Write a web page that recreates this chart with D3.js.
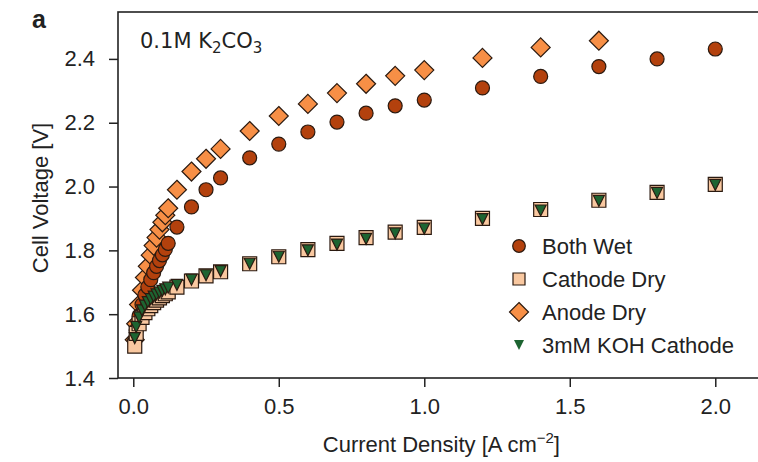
<!DOCTYPE html>
<html>
<head>
<meta charset="utf-8">
<script src="https://cdn.jsdelivr.net/npm/d3@7"></script>
<style>
  html, body { margin: 0; padding: 0; background: #fff; }
  svg { display: block; }
  text { font-family: "Liberation Sans", Arial, sans-serif; fill: #222; }
</style>
</head>
<body>
<svg id="chart" width="758" height="462"></svg>
<script>
// Polarization curves: cell voltage vs. current density, 0.1M K2CO3 electrolyte
const currentLow = [0.005, 0.01, 0.02, 0.03, 0.04, 0.05, 0.06, 0.07, 0.08, 0.09, 0.10, 0.11, 0.12,
                    0.15, 0.2, 0.25, 0.3, 0.4, 0.5, 0.6, 0.7, 0.8, 0.9, 1.0, 1.2, 1.4, 1.6, 1.8, 2.0];

const bothWet = [1.515, 1.55, 1.595, 1.63, 1.66, 1.685, 1.708, 1.73, 1.75, 1.768, 1.786, 1.803, 1.822,
                 1.873, 1.936, 1.99, 2.027, 2.09, 2.133, 2.171, 2.202, 2.23, 2.253, 2.271, 2.309, 2.345, 2.376, 2.40, 2.431];

const cathodeDry = [1.50, 1.54, 1.57, 1.59, 1.605, 1.617, 1.627, 1.636, 1.644, 1.651, 1.658, 1.664, 1.67,
                    1.685, 1.704, 1.72, 1.733, 1.758, 1.78, 1.802, 1.822, 1.84, 1.857, 1.872, 1.90, 1.928, 1.957, 1.982, 2.007];

// anode-dry run stops at 1.6 A cm-2
const anodeDry = [1.52, 1.57, 1.63, 1.675, 1.715, 1.75, 1.785, 1.815, 1.84, 1.865, 1.888, 1.91, 1.932,
                  1.99, 2.047, 2.087, 2.118, 2.174, 2.221, 2.259, 2.293, 2.322, 2.347, 2.365, 2.403, 2.436, 2.457];

const kohCathode = [1.525, 1.56, 1.59, 1.612, 1.627, 1.638, 1.647, 1.655, 1.662, 1.668, 1.673, 1.678, 1.683,
                    1.692, 1.708, 1.722, 1.735, 1.758, 1.78, 1.80, 1.818, 1.836, 1.853, 1.868, 1.898, 1.925, 1.955, 1.98, 2.005];

const seriesNames = ["Both Wet", "Cathode Dry", "Anode Dry", "3mM KOH Cathode"];
const xTicks = [0, 0.5, 1.0, 1.5, 2.0];
const yTicks = [1.4, 1.6, 1.8, 2.0, 2.2, 2.4];

const svg = d3.select("#chart");
const plotLeft = 118, plotTop = 12, plotBottom = 378;
const fontSize = 22;

const x = d3.scaleLinear().domain([-0.0525, 2.17]).range([plotLeft, plotLeft + 2.2225 * 291]);
const y = d3.scaleLinear().domain([1.4, 2.547]).range([plotBottom, plotTop]);
const plotRight = x.range()[1];

const edge = "#2b1a10";
const styles = {
  "Both Wet":        { fill: "#b3410d", shape: "circle" },
  "Cathode Dry":     { fill: "#f9c8a0", shape: "square" },
  "Anode Dry":       { fill: "#f78f46", shape: "diamond" },
  "3mM KOH Cathode": { fill: "#1d6431", shape: "tri" }
};

function markerPath(shape) {
  if (shape === "circle") return d3.symbol().type(d3.symbolCircle).size(Math.PI * 7 * 7)();
  if (shape === "square") return "M-7,-7H7V7H-7Z";
  if (shape === "diamond") return "M0,-9.5L9.5,0L0,9.5L-9.5,0Z";
  return "M-5.5,-5.5L5.5,-5.5L0,5.5Z";
}

const plot = svg.append("g");
function drawSeries(name, xs, ys) {
  const st = styles[name];
  const pts = ys.map((v, i) => [xs[i], v]);
  plot.append("g").selectAll("path").data(pts).join("path")
    .attr("d", markerPath(st.shape))
    .attr("transform", d => `translate(${x(d[0])},${y(d[1])})`)
    .attr("fill", st.fill)
    .attr("stroke", edge)
    .attr("stroke-width", 1.2);
}
drawSeries("Anode Dry", currentLow, anodeDry);
drawSeries("Both Wet", currentLow, bothWet);
drawSeries("Cathode Dry", currentLow, cathodeDry);
drawSeries("3mM KOH Cathode", currentLow, kohCathode);

// axes
const xAxis = d3.axisBottom(x).tickValues(xTicks).tickFormat(d3.format(".1f")).tickSizeOuter(0).tickSize(9).tickPadding(14);
const yAxis = d3.axisLeft(y).tickValues(yTicks).tickFormat(d3.format(".1f")).tickSizeOuter(0).tickSize(9).tickPadding(14);

const gx = svg.append("g").attr("transform", `translate(0,${plotBottom})`).call(xAxis);
const gy = svg.append("g").attr("transform", `translate(${plotLeft},0)`).call(yAxis);
[gx, gy].forEach(g => {
  g.select(".domain").remove();
  g.selectAll("line").attr("stroke", "#222").attr("stroke-width", 1.5);
  g.selectAll("text").attr("font-size", fontSize).attr("fill", "#222")
    .attr("font-family", "'Liberation Sans', Arial, sans-serif");
});
gx.selectAll("text").attr("dy", "0.6em");

// frame (right edge lies past the visible area)
svg.append("rect")
  .attr("x", plotLeft).attr("y", plotTop)
  .attr("width", plotRight - plotLeft).attr("height", plotBottom - plotTop)
  .attr("fill", "none").attr("stroke", "#222").attr("stroke-width", 1.6);

// axis titles, centred on the axes box
svg.append("text")
  .attr("x", (plotLeft + plotRight) / 2).attr("y", 452)
  .attr("text-anchor", "middle").attr("font-size", fontSize)
  .html('Current Density [A cm<tspan dy="-9" font-size="15">−2</tspan><tspan dy="9">]</tspan>');

svg.append("text")
  .attr("transform", "translate(48,198) rotate(-90)")
  .attr("text-anchor", "middle").attr("font-size", fontSize)
  .text("Cell Voltage [V]");

// panel letter and electrolyte note
svg.append("text").attr("x", 32).attr("y", 28)
  .attr("font-size", 25).attr("font-weight", "bold").text("a");

svg.append("text").attr("x", 140).attr("y", 48)
  .attr("font-size", 21).style("font-family", "'DejaVu Sans', sans-serif")
  .html('0.1M K<tspan dy="5" font-size="15">2</tspan><tspan dy="-5">CO</tspan><tspan dy="5" font-size="15">3</tspan>');

// legend
const legend = svg.append("g");
seriesNames.forEach((name, i) => {
  const cy = 246 + i * 33;
  const st = styles[name];
  let d = markerPath(st.shape);
  if (st.shape === "square") d = "M-6,-6H6V6H-6Z";
  if (st.shape === "circle") d = d3.symbol().type(d3.symbolCircle).size(Math.PI * 6.3 * 6.3)();
  if (st.shape === "tri") d = "M-5,-5L5,-5L0,5Z";
  legend.append("path").attr("d", d)
    .attr("transform", `translate(519,${cy})`)
    .attr("fill", st.fill).attr("stroke", st.shape === "tri" ? "none" : edge).attr("stroke-width", 1.2);
  legend.append("text").attr("x", 542).attr("y", cy + 8)
    .attr("font-size", fontSize).text(name);
});
</script>
</body>
</html>
